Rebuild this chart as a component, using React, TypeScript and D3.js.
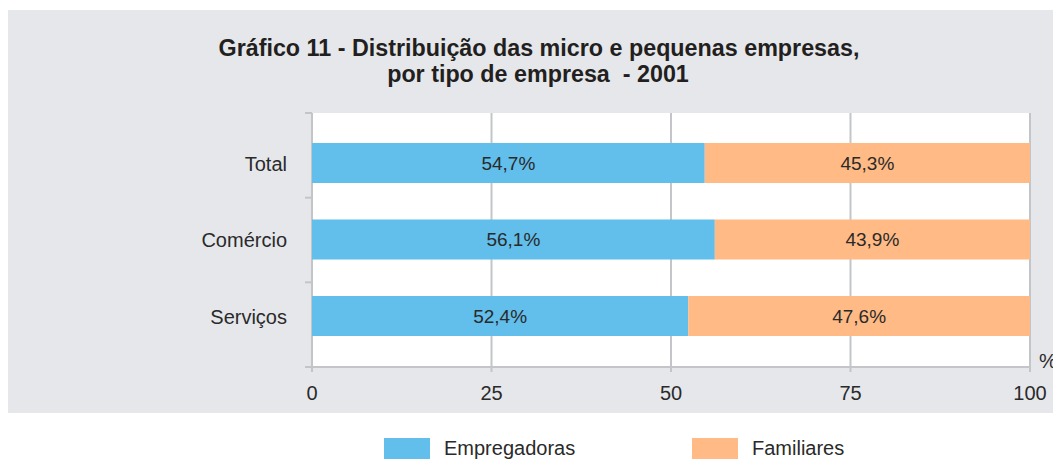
import React from "react";
import * as d3 from "d3";

const categories = ["Total", "Comércio", "Serviços"];
const empregadoras = [54.7, 56.1, 52.4];
const familiares = [45.3, 43.9, 47.6];
const xTicks = [0, 25, 50, 75, 100];
const seriesNames = ["Empregadoras", "Familiares"];
const colors = ["#62BEEA", "#FFBA85"];

const fmt = (v: number) => v.toFixed(1).replace(".", ",") + "%";

export default function App() {
  const W = 1053, H = 459;
  const left = 312, right = 1030, top = 113, bottom = 367;
  const x = d3.scaleLinear().domain([0, 100]).range([left, right]);
  const y = d3.scaleBand().domain(categories).range([124.75, 354.25]).paddingInner(0.477).paddingOuter(0.2385);
  const band = (bottom - top) / categories.length;
  const font = "'Liberation Sans', Arial, sans-serif";
  return (
    <svg width={W} height={H} style={{ position: "absolute", left: 0, top: 0 }}>
      <rect x={8} y={10} width={W - 8} height={403} fill="#E6E7EB" />
      <text x={539} y={56} textAnchor="middle" fontFamily={font} fontWeight="bold" fontSize={23.3} fill="#231F20">
        Gráfico 11 - Distribuição das micro e pequenas empresas,
      </text>
      <text x={538} y={82} textAnchor="middle" fontFamily={font} fontWeight="bold" fontSize={23.3} fill="#231F20" style={{ whiteSpace: "pre" }}>
        {"por tipo de empresa  - 2001"}
      </text>
      <rect x={left} y={top} width={right - left} height={bottom - top} fill="#fff" />
      {xTicks.map((t) => (
        <line key={"g" + t} x1={x(t)} x2={x(t)} y1={top} y2={bottom + 5} stroke="#C4C5C9" strokeWidth={2} />
      ))}
      <line x1={left - 6} x2={right} y1={bottom} y2={bottom} stroke="#C4C5C9" strokeWidth={2} />
      {d3.range(categories.length + 1).map((i) => (
        <line key={"yt" + i} x1={left - 7} x2={left} y1={top + i * band} y2={top + i * band} stroke="#C4C5C9" strokeWidth={2} />
      ))}
      {categories.map((c, i) => {
        const y0 = y(c)!;
        const h = y.bandwidth();
        const e = empregadoras[i], f = familiares[i];
        return (
          <g key={c}>
            <rect x={x(0)} y={y0} width={x(e) - x(0)} height={h} fill={colors[0]} />
            <rect x={x(e)} y={y0} width={x(e + f) - x(e)} height={h} fill={colors[1]} />
            <text x={(x(0) + x(e)) / 2} y={y0 + h / 2 + 6.5} textAnchor="middle" fontFamily={font} fontSize={19} fill="#2a2a2a">{fmt(e)}</text>
            <text x={(x(e) + x(e + f)) / 2} y={y0 + h / 2 + 6.5} textAnchor="middle" fontFamily={font} fontSize={19} fill="#2a2a2a">{fmt(f)}</text>
            <text x={287} y={y0 + h / 2 + 7.5} textAnchor="end" fontFamily={font} fontSize={20} fill="#2a2a2a">{c}</text>
          </g>
        );
      })}
      {xTicks.map((t) => (
        <text key={"xl" + t} x={x(t)} y={400} textAnchor="middle" fontFamily={font} fontSize={20} fill="#2a2a2a">{t}</text>
      ))}
      <text x={1039} y={368} fontFamily={font} fontSize={20} fill="#2a2a2a">%</text>
      {seriesNames.map((s, i) => (
        <g key={s}>
          <rect x={384 + i * 308} y={438} width={46} height={21} fill={colors[i]} />
          <text x={444 + i * 308} y={455} fontFamily={font} fontSize={20} fill="#2a2a2a">{s}</text>
        </g>
      ))}
    </svg>
  );
}
